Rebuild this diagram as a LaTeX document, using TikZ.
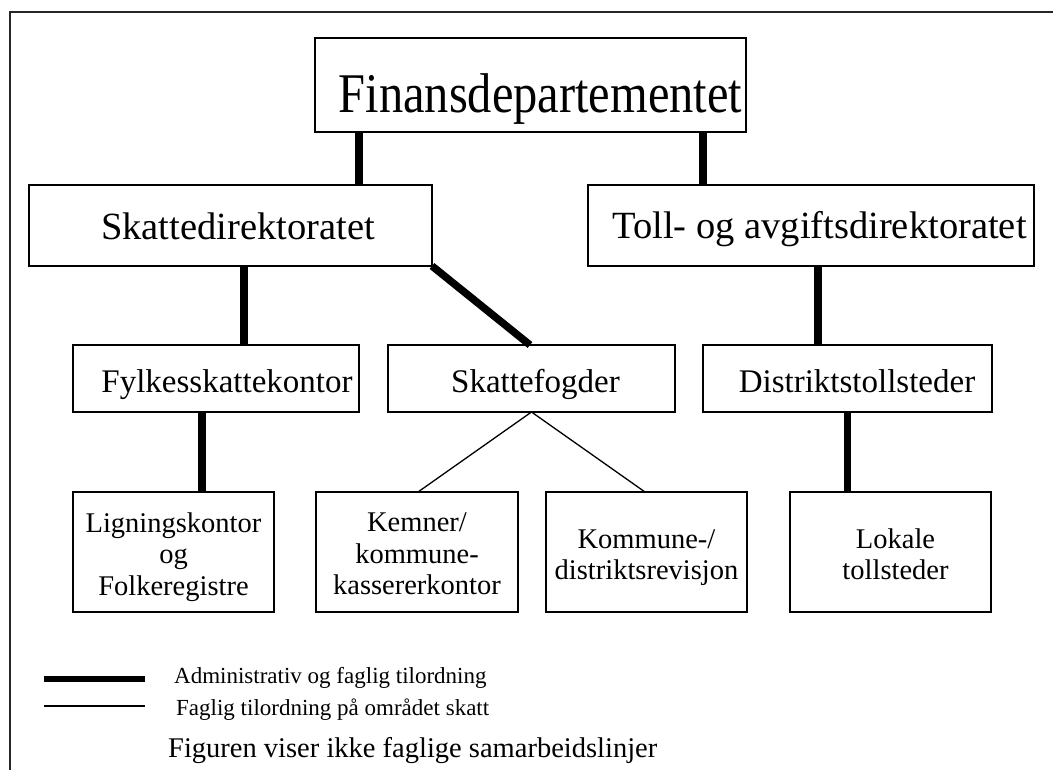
\documentclass[tikz,border=0pt]{standalone}
\usepackage{fontspec}
\setmainfont{Liberation Serif}
\begin{document}
\begin{tikzpicture}[x=1pt,y=-1pt,
  box/.style={draw, line width=1.6pt, inner sep=0pt, outer sep=0pt, rectangle},
  adm/.style={line width=7.5pt},
  fag/.style={line width=1.3pt},
  midbox/.style={box, minimum height=67pt, text height=27pt, text depth=0pt, font=\fontsize{33}{38}\selectfont},
  lowbox/.style={box, minimum width=201pt, minimum height=120pt, align=center, font=\fontsize{28.5}{31.5}\selectfont},
  legtext/.style={anchor=base west, inner sep=0pt, font=\fontsize{23}{27}\selectfont}
  ]
\useasboundingbox (0,0) rectangle (1053,770);
\draw[line width=1.5pt, black!85] (10,770) -- (10,12) -- (1053,12);

% level 1
\node[box, minimum width=431pt, minimum height=94pt, text height=56pt, text depth=0pt,
  font=\fontsize{56}{60}\selectfont\addfontfeatures{FakeStretch=0.865}] (fin) at (530.5,85) {\hspace*{20pt}Finansdepartementet};

% level 2
\node[box, minimum width=403pt, minimum height=81pt, text height=29pt, text depth=0pt,
  font=\fontsize{38.5}{44}\selectfont] (skd) at (230.5,225.5) {\hspace*{15pt}Skattedirektoratet};
\node[box, minimum width=446pt, minimum height=81pt, text height=27pt, text depth=0pt,
  font=\fontsize{38.5}{44}\selectfont] (toll) at (811,225.5) {\hspace*{17pt}Toll- og avgiftsdirektoratet};

% level 3
\node[midbox, minimum width=286pt] (fyl) at (216,378.5) {\hspace*{22pt}Fylkesskattekontor};
\node[midbox, minimum width=287pt] (skf) at (531.5,378.5) {\hspace*{8pt}Skattefogder};
\node[midbox, minimum width=289pt] (dst) at (847.5,378.5) {\hspace*{19pt}Distriktstollsteder};

% level 4
\node[lowbox] (lig) at (173.5,552) {\rule{0pt}{29.2pt}Ligningskontor\\og\\Folkeregistre};
\node[lowbox, minimum width=202pt] (kem) at (417,552) {\rule{0pt}{23pt}Kemner/\\kommune-\\kassererkontor};
\node[lowbox] (kom) at (646.5,552) {\rule{0pt}{30.2pt}Kommune-/\\distriktsrevisjon};
\node[lowbox] (lok) at (890.5,552) {\rule{0pt}{24pt}\hspace*{10pt}Lokale\\\hspace*{10pt}tollsteder};

% connectors
\draw[adm] ([xshift=44pt]fin.south west) coordinate (c1) -- (c1 |- skd.north);
\draw[adm] ([xshift=388pt]fin.south west) coordinate (c2) -- (c2 |- toll.north);
\draw[adm] ([xshift=215pt]skd.south west) coordinate (c3) -- (c3 |- fyl.north);
\draw[adm] (skd.south east) -- ([xshift=-1.5pt]skf.north);
\draw[adm] ([xshift=230pt]toll.south west) coordinate (c4) -- (c4 |- dst.north);
\draw[adm] ([xshift=129pt]fyl.south west) coordinate (c5) -- (c5 |- lig.north);
\draw[adm] (dst.south) -- (dst.south |- lok.north);
\draw[fag] (skf.south) -- ([xshift=102pt]kem.north west);
\draw[fag] (skf.south) -- ([xshift=99pt]kom.north west);

% legend
\draw[line width=6.5pt] (44,679) -- (145,679);
\draw[fag] (44,706) -- (145,706);
\node[legtext] (l1) at (174,683) {Administrativ og faglig tilordning};
\node[legtext] (l2) at (176,715) {Faglig tilordning på området skatt};
\node[anchor=base west, inner sep=0pt, font=\fontsize{28.5}{32}\selectfont] (l3) at (168,757) {Figuren viser ikke faglige samarbeidslinjer};
\end{tikzpicture}
\end{document}
